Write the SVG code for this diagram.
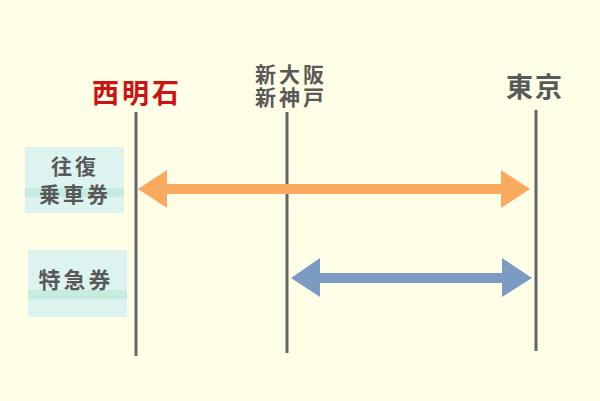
<svg xmlns="http://www.w3.org/2000/svg" width="600" height="401" viewBox="0 0 600 401">
<style>
.bg{fill:#fffee6}
.box{fill:#dcf3ef}
.stripe{fill:#c6ece0}
.lbl{font-family:"Noto Sans CJK JP","Noto Sans CJK SC",sans-serif;font-weight:bold;fill:#595959;text-anchor:middle}
.st{font-family:"Noto Sans CJK JP","Noto Sans CJK SC",sans-serif;font-weight:bold;text-anchor:middle}
.vline{stroke:#666;stroke-width:3;fill:none}
</style>
<rect class="bg" x="0" y="0" width="600" height="401"/>
<g id="box-oufuku">
<rect class="box" x="25" y="147" width="99" height="66"/>
<rect class="stripe" x="25" y="188" width="99" height="9"/>
<text class="lbl" x="75" y="174" font-size="21" letter-spacing="3">往復</text>
<text class="lbl" x="75" y="202" font-size="21" letter-spacing="3">乗車券</text>
</g>
<g id="box-tokkyu">
<rect class="box" x="28" y="250" width="99" height="67"/>
<rect class="stripe" x="28" y="290" width="99" height="9"/>
<text class="lbl" x="76" y="288" font-size="22" letter-spacing="3">特急券</text>
</g>
<g id="station-nishiakashi">
<text class="st" x="137" y="103" font-size="27" fill="#cc1414" letter-spacing="3">西明石</text>
</g>
<g id="station-shinosaka">
<text class="st" x="291" y="82" font-size="21" fill="#595959" letter-spacing="3">新大阪</text>
<text class="st" x="291" y="105" font-size="21" fill="#595959" letter-spacing="3">新神戸</text>
</g>
<g id="station-tokyo">
<text class="st" x="535" y="97" font-size="27" fill="#595959" letter-spacing="2">東京</text>
</g>
<g id="connectors">
<line class="vline" x1="136" y1="112" x2="136" y2="356"/>
<line class="vline" x1="287" y1="112" x2="287" y2="353"/>
<line class="vline" x1="536" y1="110" x2="536" y2="351"/>
<polygon fill="#f9aa5f" points="138,189 167,170 167,184 501,184 501,170 530,189 501,208 501,194 167,194 167,208"/>
<polygon fill="#7c9bc3" points="291,278 320,258 320,273 502,273 502,258 532,278 502,297 502,283 320,283 320,297"/>
</g>
</svg>
